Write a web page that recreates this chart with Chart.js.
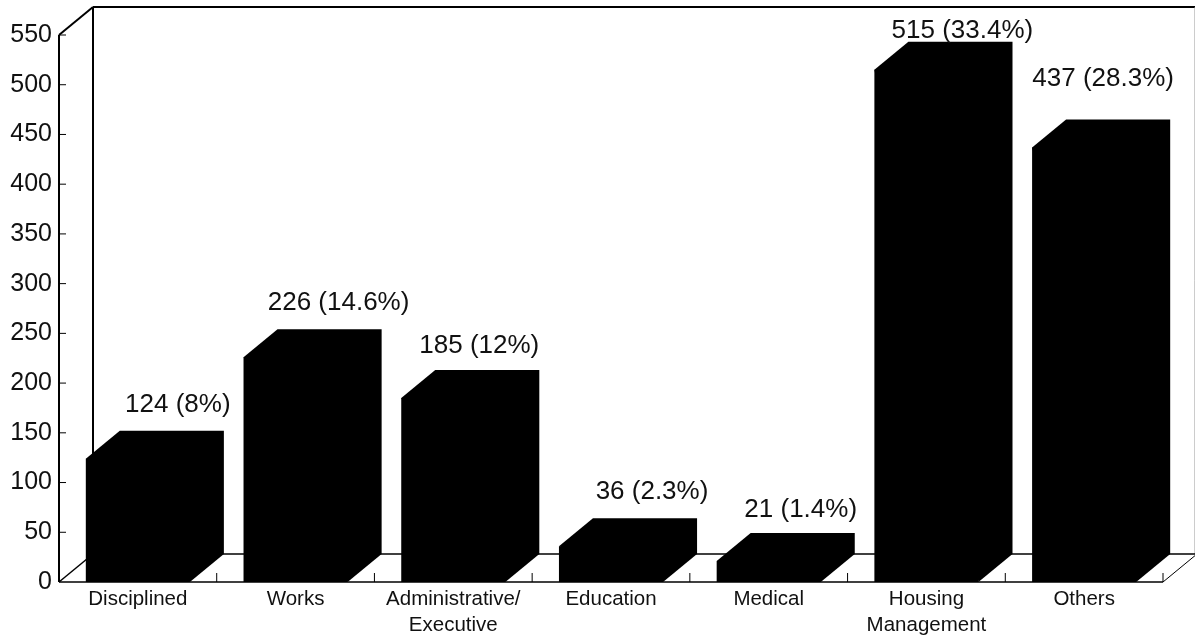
<!DOCTYPE html>
<html>
<head>
    <title>Staff by Category</title>
    <script src="https://cdn.jsdelivr.net/npm/chart.js"></script>
    <style>
        html, body { margin: 0; padding: 0; background: white; }
        canvas { display: block; }
    </style>
</head>
<body>
    <canvas id="staffChart" width="1195" height="640"></canvas>

    <script>
        const categories = ['Disciplined', 'Works', ['Administrative/', 'Executive'], 'Education', 'Medical', ['Housing', 'Management'], 'Others'];
        const values = [124, 226, 185, 36, 21, 515, 437];
        const shares = [8, 14.6, 12, 2.3, 1.4, 33.4, 28.3];
        const yMax = 550;
        const yStep = 50;

        // how far the box goes back into the page
        const depthX = 34;
        const depthY = 28;
        // the value labels were placed by hand in the original, so they need a nudge each
        const labelNudgeX = [6, 9, -8, 7, -2, 2, -15];
        const labelNudgeY = [0, 0, 2, 0, 3, 15, -15];

        function line(c, x1, y1, x2, y2, width, color) {
            c.beginPath();
            c.moveTo(x1, y1);
            c.lineTo(x2, y2);
            c.lineWidth = width;
            c.strokeStyle = color || '#000';
            c.stroke();
        }

        const box3d = {
            id: 'box3d',
            beforeDatasetsDraw(chart) {
                const c = chart.ctx;
                const a = chart.chartArea;
                c.save();
                // side wall, back wall and floor
                line(c, a.left, a.top, a.left, a.bottom, 2);
                line(c, a.left, a.top, a.left + depthX, a.top - depthY, 2);
                line(c, a.left + depthX, a.top - depthY, a.left + depthX, a.bottom - depthY, 2);
                line(c, a.left + depthX, a.top - depthY, a.right + depthX - 2, a.top - depthY, 2);
                line(c, a.right + depthX - 2, a.top - depthY, a.right + depthX - 2, a.bottom - depthY, 1, '#999');
                line(c, a.left, a.bottom, a.left + depthX, a.bottom - depthY, 1.5);
                line(c, a.left + depthX, a.bottom - depthY, a.right + depthX, a.bottom - depthY, 1.5);
                line(c, a.left, a.bottom, a.right, a.bottom, 1.5);
                line(c, a.right, a.bottom, a.right + depthX, a.bottom - depthY, 1);
                c.restore();
            },
            afterDatasetsDraw(chart) {
                const c = chart.ctx;
                const a = chart.chartArea;
                const y = chart.scales.y;
                const bars = chart.getDatasetMeta(0).data;
                c.save();

                // top and side face of each bar
                c.fillStyle = '#000';
                bars.forEach(b => {
                    const p = b.getProps(['x', 'y', 'base', 'width'], true);
                    const left = p.x - p.width / 2;
                    const right = p.x + p.width / 2;
                    c.beginPath();
                    c.moveTo(left, p.y);
                    c.lineTo(left + depthX, p.y - depthY);
                    c.lineTo(right + depthX, p.y - depthY);
                    c.lineTo(right + depthX, p.base - depthY);
                    c.lineTo(right, p.base);
                    c.closePath();
                    c.fill();
                });

                // small ticks pointing into the chart
                y.ticks.forEach((t, i) => {
                    if (t.value === 0) return;
                    const py = y.getPixelForTick(i);
                    line(c, a.left, py, a.left + 7, py, 1);
                });
                const cell = (a.right - a.left) / categories.length;
                categories.forEach((_, i) => {
                    const px = a.left + cell * (i + 1);
                    line(c, px, a.bottom, px, a.bottom - 9, 1);
                });

                // value labels
                c.fillStyle = '#111';
                c.font = '26px "Liberation Sans"';
                c.textAlign = 'center';
                c.textBaseline = 'middle';
                bars.forEach((b, i) => {
                    const p = b.getProps(['x', 'y'], true);
                    const text = values[i] + ' (' + shares[i] + '%)';
                    c.fillText(text, p.x + depthX + labelNudgeX[i], p.y - depthY - 26 + labelNudgeY[i]);
                });
                c.restore();
            }
        };

        const ctx = document.getElementById('staffChart').getContext('2d');
        const chart = new Chart(ctx, {
            type: 'bar',
            data: {
                labels: categories,
                datasets: [{
                    data: values,
                    backgroundColor: '#000',
                    barPercentage: 0.66,
                    categoryPercentage: 1
                }]
            },
            plugins: [box3d],
            options: {
                responsive: false,
                animation: false,
                layout: { padding: { top: 35, right: 32, left: 0, bottom: 0 } },
                plugins: {
                    legend: { display: false },
                    title: { display: false },
                    tooltip: { enabled: false }
                },
                scales: {
                    x: {
                        afterFit: s => { s.height = 58; },
                        grid: { display: false, drawTicks: false },
                        border: { display: false },
                        ticks: {
                            color: '#111',
                            font: { family: 'Liberation Sans', size: 20.5, lineHeight: 1.27 },
                            padding: 4,
                            autoSkip: false,
                            maxRotation: 0
                        }
                    },
                    y: {
                        min: 0,
                        max: yMax,
                        afterFit: s => { s.width = 59; },
                        grid: { display: false, drawTicks: false },
                        border: { display: false },
                        ticks: {
                            stepSize: yStep,
                            color: '#111',
                            font: { family: 'Liberation Sans', size: 25 },
                            padding: 7
                        }
                    }
                }
            }
        });
    </script>
</body>
</html>
